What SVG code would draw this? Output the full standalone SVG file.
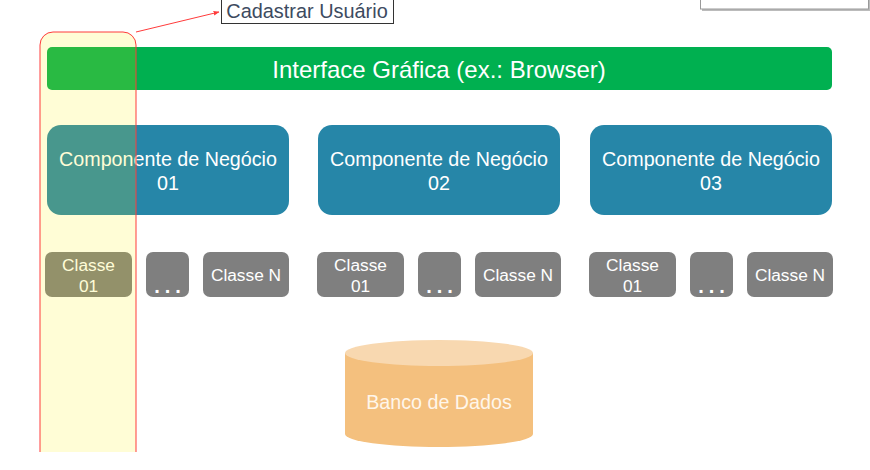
<svg xmlns="http://www.w3.org/2000/svg" width="870" height="470" viewBox="0 0 870 470">
<defs>
<style>
text{font-family:"Liberation Sans",Arial,sans-serif;text-anchor:middle;}
.comp rect{fill:#2686a8;}
.comp text{fill:#ffffff;font-size:19.7px;}
.cls rect{fill:#7f7f7f;}
.cls text{fill:#ffffff;font-size:17.3px;}
.dots text{fill:#ffffff;font-size:20px;font-weight:bold;letter-spacing:5px;}
</style>
<marker id="ah" viewBox="0 0 10 10" refX="9" refY="5" markerWidth="6" markerHeight="6" orient="auto"><path d="M0,1 L10,5 L0,9 z" fill="#ff3b3b"/></marker>
<clipPath id="clipH"><rect x="0" y="0" width="870" height="452"/></clipPath>
</defs>
<rect width="870" height="470" fill="#ffffff"/>
<g id="topbox">
<rect x="702" y="-6" width="168" height="17" fill="#bbbbbb"/>
<rect x="700.5" y="-8" width="168" height="17" fill="#ffffff" stroke="#999999" stroke-width="1"/>
</g>
<g id="interface">
<rect x="47" y="47" width="785" height="43" rx="5" fill="#00b050"/>
<text x="439" y="78" fill="#ffffff" font-size="24">Interface Gráfica (ex.: Browser)</text>
</g>
<g id="comp1" class="comp"><rect x="47" y="125" width="242" height="90" rx="14"/><text x="168" y="166">Componente de Negócio</text><text x="168" y="190">01</text></g>
<g id="comp2" class="comp"><rect x="318" y="125" width="242" height="90" rx="14"/><text x="439" y="166">Componente de Negócio</text><text x="439" y="190">02</text></g>
<g id="comp3" class="comp"><rect x="590" y="125" width="242" height="90" rx="14"/><text x="711" y="166">Componente de Negócio</text><text x="711" y="190">03</text></g>
<g id="c1a" class="cls"><rect x="45" y="252" width="87" height="45" rx="7"/><text x="88.5" y="271">Classe</text><text x="88.5" y="292">01</text></g>
<g id="c1b" class="cls dots"><rect x="146" y="252" width="43" height="45" rx="7"/><text x="170" y="293">...</text></g>
<g id="c1n" class="cls"><rect x="203" y="252" width="86" height="45" rx="7"/><text x="246" y="281">Classe N</text></g>
<g id="c2a" class="cls"><rect x="317" y="252" width="87" height="45" rx="7"/><text x="360.5" y="271">Classe</text><text x="360.5" y="292">01</text></g>
<g id="c2b" class="cls dots"><rect x="418" y="252" width="43" height="45" rx="7"/><text x="442" y="293">...</text></g>
<g id="c2n" class="cls"><rect x="475" y="252" width="86" height="45" rx="7"/><text x="518" y="281">Classe N</text></g>
<g id="c3a" class="cls"><rect x="589" y="252" width="87" height="45" rx="7"/><text x="632.5" y="271">Classe</text><text x="632.5" y="292">01</text></g>
<g id="c3b" class="cls dots"><rect x="690" y="252" width="43" height="45" rx="7"/><text x="714" y="293">...</text></g>
<g id="c3n" class="cls"><rect x="747" y="252" width="86" height="45" rx="7"/><text x="790" y="281">Classe N</text></g>
<g id="db">
<path d="M345,353 L345,434 A94,13 0 0 0 533,434 L533,353 Z" fill="#f4c07e"/>
<ellipse cx="439" cy="353" rx="94" ry="13" fill="#f8d8b0"/>
<text x="439" y="409" fill="#fff6ea" font-size="19.7">Banco de Dados</text>
</g>
<g id="highlight" clip-path="url(#clipH)">
<rect x="40" y="32" width="96" height="440" rx="13" fill="#fff500" fill-opacity="0.16" stroke="#ff3b3b" stroke-width="1"/>
</g>
<g id="connectors">
<line x1="136" y1="32" x2="219" y2="12" stroke="#ff3b3b" stroke-width="1" marker-end="url(#ah)"/>
</g>
<g id="label">
<rect x="221.5" y="-2" width="172" height="25.5" fill="#ffffff" stroke="#333333" stroke-width="1"/>
<text x="307" y="18" fill="#3d4b5f" font-size="19.9">Cadastrar Usuário</text>
</g>
</svg>
